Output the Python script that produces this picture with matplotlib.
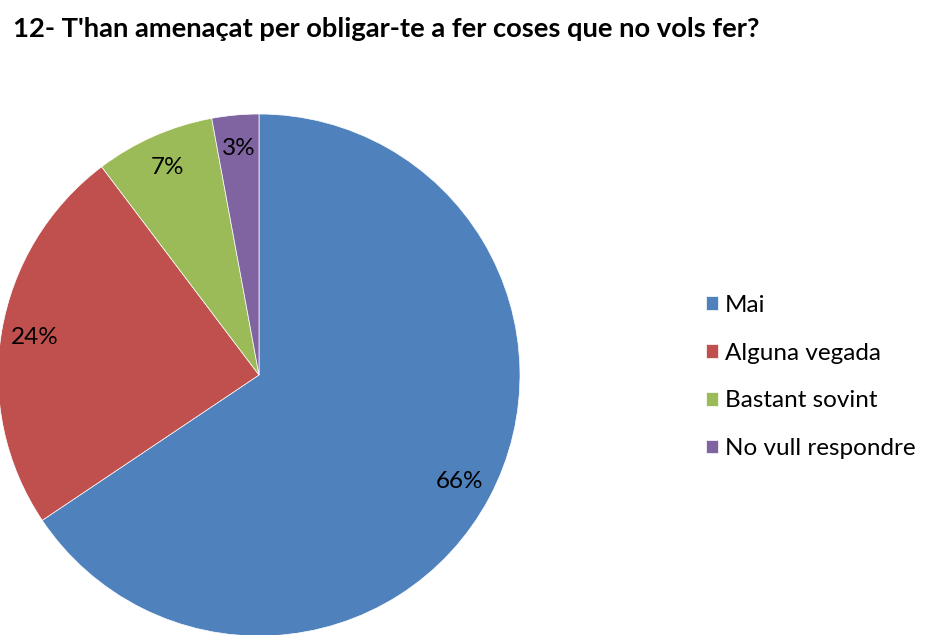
import matplotlib
matplotlib.use("Agg")
import matplotlib.pyplot as plt

title = "12- T'han amenaçat per obligar-te a fer coses que no vols fer?"
categories = ["Mai", "Alguna vegada", "Bastant sovint", "No vull respondre"]
values = [65.6, 24.1, 7.4, 2.9]
colors = ["#4F81BD", "#C0504D", "#9BBB59", "#8064A2"]

plt.rcParams['font.family'] = ['Lato', 'DejaVu Sans']

W, H = 925, 635
fig = plt.figure(figsize=(W / 100, H / 100), dpi=100)
ax = fig.add_axes([0, 0, 1, 1])

wedges, texts, autotexts = ax.pie(
    values, colors=colors, startangle=90, counterclock=False,
    center=(259, H - 375), radius=261,
    autopct=lambda p: f"{p:.0f}%", pctdistance=0.87,
    textprops=dict(fontsize=17.5, color="black"),
    wedgeprops=dict(linewidth=0.5, edgecolor="white"),
)
ax.set_xlim(0, W)
ax.set_ylim(0, H)
ax.set_aspect('equal')
ax.axis('off')

fig.text(13 / W, 1 - 29 / H, title, fontsize=19.7, fontweight='bold',
         ha='left', va='center')

leg = ax.legend(wedges, categories, loc='center left',
                bbox_to_anchor=(706 / W, 1 - 377 / H), frameon=False,
                fontsize=17.5, handlelength=0.5, handleheight=0.5,
                handletextpad=0.28, labelspacing=1.1, borderaxespad=0,
                borderpad=0)

fig.savefig("out.png", dpi=100)
